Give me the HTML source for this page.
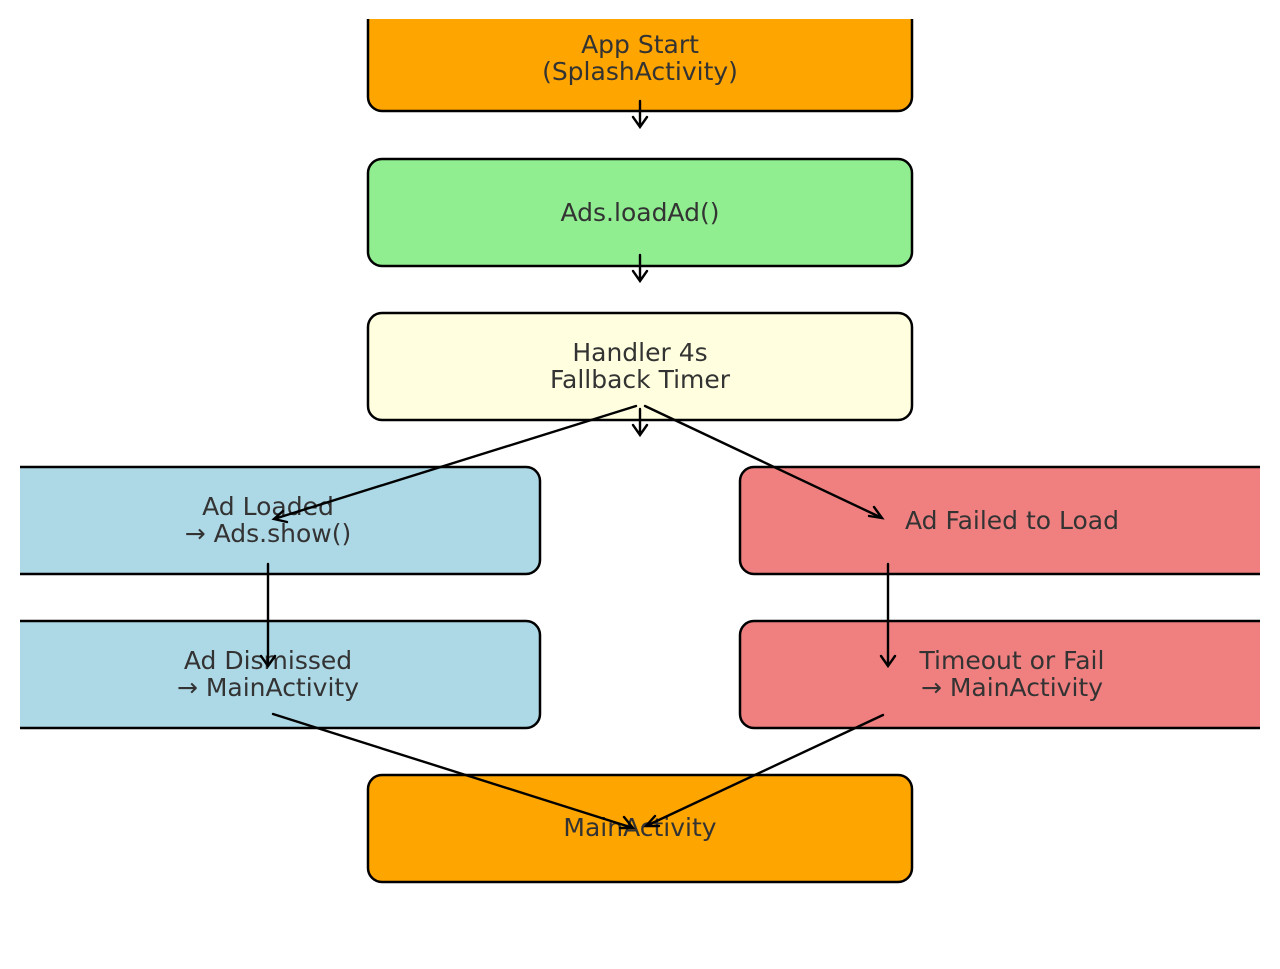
<!DOCTYPE html>
<html><head><style>html,body{margin:0;padding:0;background:#fff}</style></head><body>
<svg width="1280" height="964" viewBox="0 0 1280 964" xmlns="http://www.w3.org/2000/svg">
<defs><clipPath id="c"><rect x="20" y="19" width="1240" height="930"/></clipPath></defs>
<g clip-path="url(#c)" stroke="#000" stroke-width="2.5">
<rect x="368" y="4" width="544" height="107" rx="14" fill="#ffa500"/>
<rect x="368" y="159" width="544" height="107" rx="14" fill="#90ee90"/>
<rect x="368" y="313" width="544" height="107" rx="14" fill="#ffffe0"/>
<rect x="-4" y="467" width="544" height="107" rx="14" fill="#add8e6"/>
<rect x="740" y="467" width="544" height="107" rx="14" fill="#f08080"/>
<rect x="-4" y="621" width="544" height="107" rx="14" fill="#add8e6"/>
<rect x="740" y="621" width="544" height="107" rx="14" fill="#f08080"/>
<rect x="368" y="775" width="544" height="107" rx="14" fill="#ffa500"/>
</g>
<g font-family="DejaVu Sans, sans-serif" font-size="25" fill="#333" text-anchor="middle">
<text x="640" y="53">App Start</text><text x="640" y="80">(SplashActivity)</text>
<text x="640" y="221">Ads.loadAd()</text>
<text x="640" y="361">Handler 4s</text><text x="640" y="388">Fallback Timer</text>
<text x="268" y="515">Ad Loaded</text><text x="268" y="542">→ Ads.show()</text>
<text x="1012" y="529">Ad Failed to Load</text>
<text x="268" y="669">Ad Dismissed</text><text x="268" y="696">→ MainActivity</text>
<text x="1012" y="669">Timeout or Fail</text><text x="1012" y="696">→ MainActivity</text>
<text x="640" y="836">MainActivity</text>
</g>
<g stroke="#000" stroke-width="2.4" fill="none" stroke-linecap="round">
<path d="M640 101V127M633 117L640 127L647 117"/>
<path d="M640 255V281M633 271L640 281L647 271"/>
<path d="M640 409V435M633 425L640 435L647 425"/>
<path d="M636 406L274 519M283 511L274 519L287 522"/>
<path d="M645 406L882 518M869 516L882 518L874 507"/>
<path d="M268 564V666M261 656L268 666L275 656"/>
<path d="M888 564V666M881 656L888 666L895 656"/>
<path d="M273 714L633 828M620 828L633 828L624 817"/>
<path d="M883 715L646 826M655 816L646 826L659 826"/>
</g>
</svg>
</body></html>
